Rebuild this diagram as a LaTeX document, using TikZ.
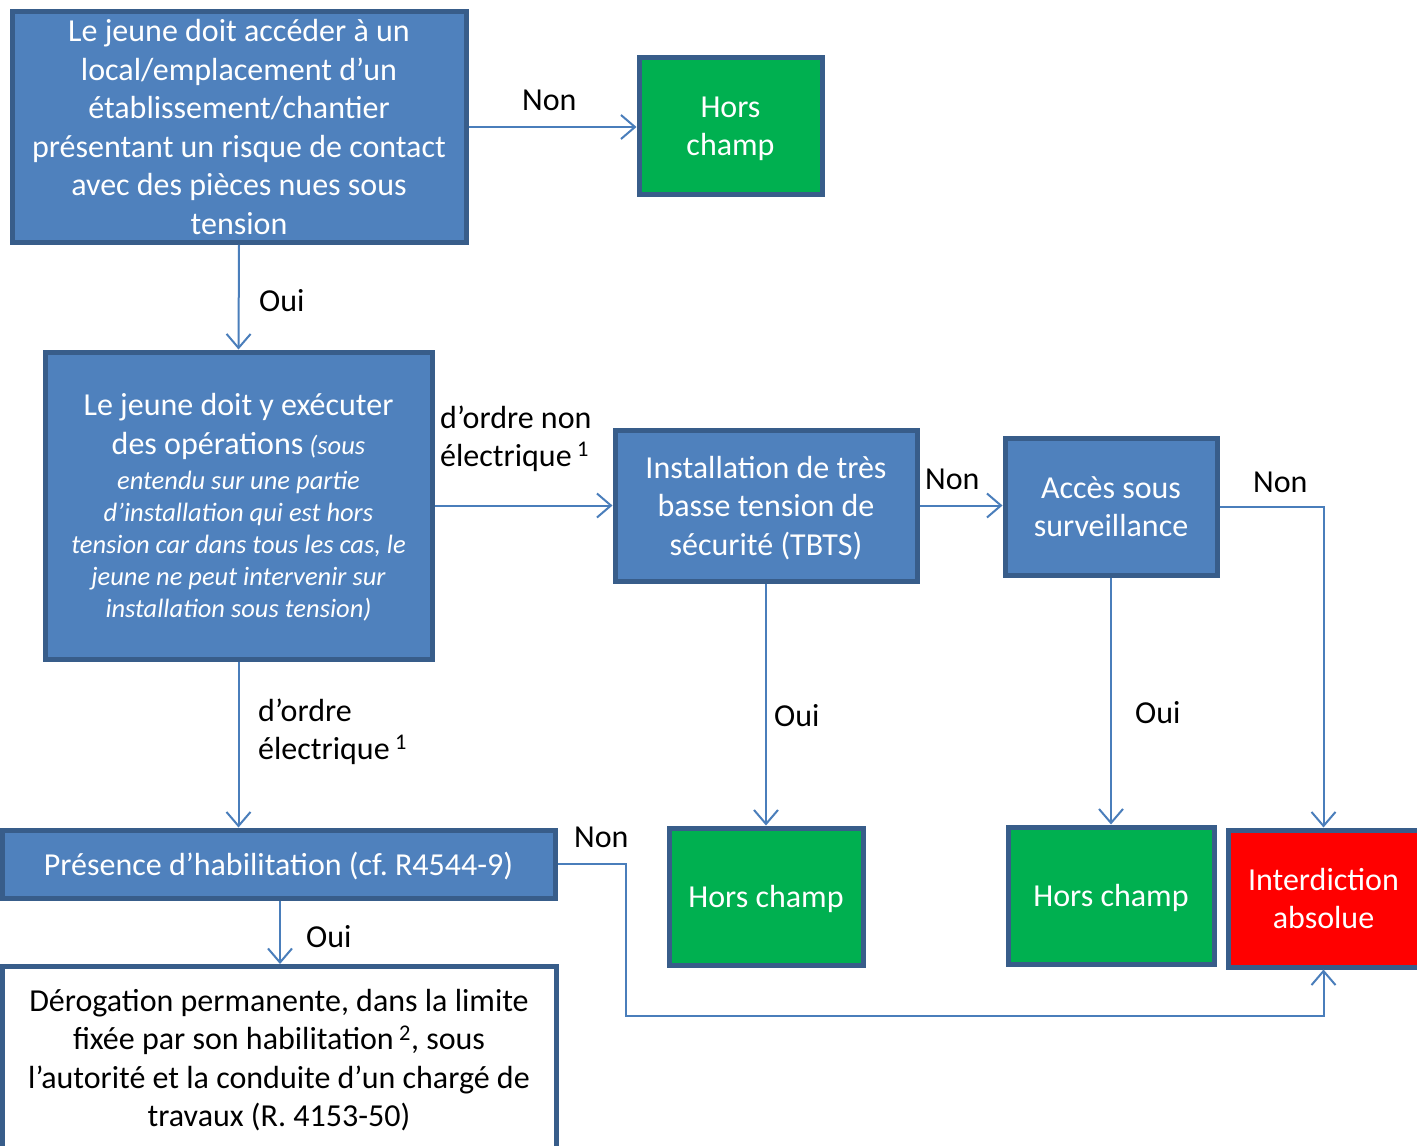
\documentclass[tikz,border=0pt]{standalone}
\usepackage{fontspec}
\setmainfont{Carlito}
\frenchspacing
\usetikzlibrary{arrows.meta}
\definecolor{bfill}{HTML}{4F81BD}
\definecolor{bdraw}{HTML}{385D8A}
\definecolor{lcol}{HTML}{4A7EBB}
\definecolor{gfill}{HTML}{00B050}
\definecolor{rfill}{HTML}{FF0000}
\newcommand{\tpS}{\rule{0pt}{30pt}}
\newcommand{\btS}{\rule[-8pt]{0pt}{8pt}}
\begin{document}
\begin{tikzpicture}[x=1pt,y=-1pt,
  box/.style={draw=bdraw, line width=5pt, inner sep=0pt, align=center,
    font=\fontsize{32}{38.5}\selectfont, text=white},
  bluebox/.style={box, fill=bfill},
  greenbox/.style={box, fill=gfill},
  redbox/.style={box, fill=rfill},
  whitebox/.style={box, fill=white, text=black},
  conn/.style={draw=lcol, line width=2pt, -{Straight Barb[length=14pt,width=24pt,line width=2pt]}},
  lab/.style={inner sep=0pt, anchor=base west, align=left, text=black,
    font=\fontsize{32}{38}\selectfont}
]
\useasboundingbox[fill=white] (0,0) rectangle (1417,1146);

\node[bluebox, minimum width=454pt, minimum height=230pt] (A) at (239,127)
  {\tpS Le jeune doit accéder à un\\local/emplacement d’un\\établissement/chantier\\présentant un risque de contact\\avec des pièces nues sous\\tension\btS};
\node[greenbox, minimum width=183pt, minimum height=137pt] (H1) at (730.5,125.5)
  {\tpS Hors\\champ\btS};
\node[bluebox, minimum width=387pt, minimum height=307pt,
  font=\fontsize{26.5}{32}\selectfont] (B) at (238.5,505.5)
  {\tpS{\fontsize{32}{32}\selectfont Le jeune doit y exécuter}\\[7pt]{\fontsize{32}{32}\selectfont des opérations} \textit{(sous}\\[3pt]\textit{entendu sur une partie}\\\textit{d’installation qui est hors}\\\textit{tension car dans tous les cas, le}\\\textit{jeune ne peut intervenir sur}\\\textit{installation sous tension)}\btS};
\node[bluebox, minimum width=302pt, minimum height=151pt] (C) at (766,505.5)
  {\tpS Installation de très\\basse tension de\\sécurité (TBTS)\btS};
\node[bluebox, minimum width=212pt, minimum height=137pt] (D) at (1111,506.5)
  {\tpS Accès sous\\surveillance\btS};
\node[greenbox, minimum width=194pt, minimum height=137pt] (H2) at (766,896.5)
  {\tpS Hors champ\btS};
\node[greenbox, minimum width=206pt, minimum height=137pt] (H3) at (1111,895.5)
  {\tpS Hors champ\btS};
\node[redbox, minimum width=191pt, minimum height=137pt] (I) at (1323.5,898.5)
  {\tpS Interdiction\\absolue\btS};
\node[bluebox, minimum width=553pt, minimum height=68pt] (P) at (278.5,864)
  {\tpS Présence d’habilitation (cf. R4544-9)\btS};
\node[whitebox, minimum width=554pt, minimum height=183pt] (E) at (279,1058)
  {\tpS Dérogation permanente, dans la limite\\fixée par son habilitation\,\textsuperscript{2}, sous\\l’autorité et la conduite d’un chargé de\\travaux (R. 4153-50)\btS};

\coordinate (pk) at (626,1016);

\draw[conn] (A.east) -- (A.east -| H1.west);
\draw[conn] (A.south) -- (B.north);
\draw[conn] (B.east) -- (C.west);
\draw[conn] (C.east) -- (C.east -| D.west);
\draw[conn] (D.east) -| (I.north);
\draw[conn] (C.south) -- (H2.north);
\draw[conn] (D.south) -- (H3.north);
\draw[conn] (B.south) -- (B.south |- P.north);
\draw[conn] (P.south -| 280,0) -- (E.north -| 280,0);
\draw[conn] (P.east) -| (pk) -| (I.south);

\node[lab] (l1) at (522,110) {Non};
\node[lab] (l2) at (259,311) {Oui};
\node[lab] (l3) at (440,466) {d’ordre non\\électrique\,\textsuperscript{1}};
\node[lab] (l4) at (925,489) {Non};
\node[lab] (l5) at (1253,492) {Non};
\node[lab] (l6) at (774,726) {Oui};
\node[lab] (l7) at (1135,723) {Oui};
\node[lab] (l8) at (258,759) {d’ordre\\électrique\,\textsuperscript{1}};
\node[lab] (l9) at (574,847) {Non};
\node[lab] (l10) at (306,947) {Oui};
\end{tikzpicture}
\end{document}
